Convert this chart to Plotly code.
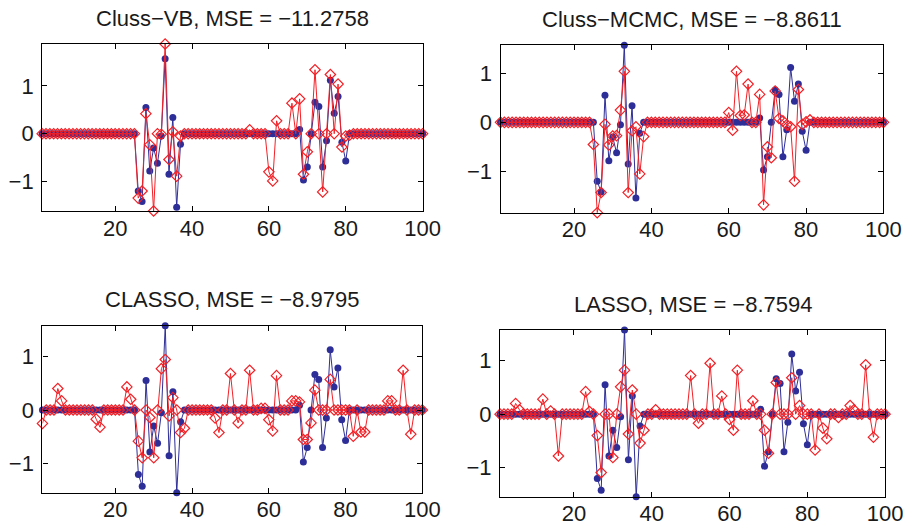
import plotly.graph_objects as go

# Sample index 1..100
idx = list(range(1, 101))

# True sparse signal (same in every panel)
true_signal = [
    0, 0, 0, 0, 0, 0, 0, 0, 0, 0,
    0, 0, 0, 0, 0, 0, 0, 0, 0, 0,
    0, 0, 0, 0, 0, -1.20, -1.42, 0.55, -0.78, -0.30,
    -0.62, -0.05, 1.57, -0.85, 0.34, -1.54, -0.22, 0, 0, 0,
    0, 0, 0, 0, 0, 0, 0, 0, 0, 0,
    0, 0, 0, 0, 0, 0, 0, 0, 0, 0,
    0, 0, 0, 0, 0, 0, 0, 0.09, -0.97, -0.70,
    0, 0.66, 0.57, -0.70, -0.15, 1.12, 0.43, 0.78, -0.18, -0.57,
    0, 0, 0, 0, 0, 0, 0, 0, 0, 0,
    0, 0, 0, 0, 0, 0, 0, 0, 0, 0,
]

# Estimates
est_cluss_vb = [
    0, 0, 0, 0, 0, 0, 0, 0, 0, 0,
    0, 0, 0, 0, 0, 0, 0, 0, 0, 0,
    0, 0, 0, 0, 0, -1.35, -1.20, 0.42, -0.23, -1.62,
    0.0, -0.01, 1.88, -0.54, 0.04, -0.89, -0.05, 0, 0, 0,
    0, 0, 0, 0, 0, 0, 0, 0, 0, 0,
    0, 0, 0, 0, 0.08, 0, 0, 0, 0, -0.80,
    -0.99, 0.27, 0, 0, 0, 0.64, 0, 0.73, -0.85, -0.38,
    0, 1.34, 0.0, -1.22, 0, 1.24, 0, 1.04, -0.28, -0.05,
    -0.03, 0, 0, 0, 0, 0, 0, 0, 0, 0,
    0, 0, 0, 0, 0, 0, 0, 0, 0, 0,
]

est_cluss_mcmc = [
    0, 0, 0, 0, 0, 0, 0, 0, 0, 0,
    0, 0, 0, 0, 0, 0, 0, 0, 0, 0,
    0, 0, 0, 0, -0.45, -1.84, -1.43, -0.04, -0.46, -0.28,
    -0.27, 0.25, 1.04, -1.43, -0.17, -0.09, -1.05, -0.29, 0, 0,
    0, 0, 0, 0, 0, 0, 0, 0, 0, 0,
    0, 0, 0, 0, 0, 0, 0, 0, 0, 0.20,
    -0.16, 1.04, 0.14, 0.15, 0.78, 0, 0, 0.57, -1.68, -0.50,
    -0.72, 0.64, 0.08, 0.03, -0.05, -0.09, -1.20, 0.67, -0.04, 0.01,
    0.05, 0, 0, 0, 0, 0, 0, 0, 0, 0,
    0, 0, 0, 0, 0, 0, 0, 0, 0, 0,
]

est_classo = [
    -0.25, 0, 0, 0, 0.40, 0.17, 0, 0, 0, 0,
    0, 0, 0, 0, -0.17, -0.32, 0, 0, 0, 0,
    0, 0, 0.43, 0.20, 0, -0.58, -0.89, 0, -0.14, -0.89,
    0, 0.77, 0.94, -0.11, 0.23, 0, -0.42, -0.34, 0, 0,
    0, 0, 0, 0, 0, -0.15, -0.42, 0, 0, 0.68,
    0, -0.24, 0, 0, 0.74, 0, 0, 0.03, 0.03, -0.18,
    -0.39, 0.64, 0, 0, 0, 0.17, 0.17, 0.15, -0.55, -0.55,
    -0.24, 0.37, 0, 0, 0, 0.57, 0, 0, 0, 0,
    0, -0.49, 0, -0.41, -0.41, 0, 0, 0, 0, 0,
    0.17, 0.17, 0, 0, 0.74, 0, -0.45, 0, 0, 0,
]

est_lasso = [
    0, 0, 0, 0, 0.20, 0.08, 0, 0, 0, 0,
    0, 0.28, 0, 0.06, 0, -0.78, 0, 0, 0, 0,
    0, 0, 0.42, 0.05, 0, -0.40, -1.09, 0, 0, -0.81,
    0, 0.51, 0.82, -0.37, 0.45, 0, -0.54, -0.30, 0, 0,
    0.08, 0, 0, 0, 0, 0, 0, 0, 0, 0.72,
    0, -0.17, 0, 0, 0.95, 0, 0, 0.34, 0, -0.10,
    -0.30, 0.82, 0, 0, 0, 0.25, 0, 0, -0.30, -0.73,
    0, 0.59, 0, 0, 0, 0.68, 0, 0.16, 0, 0,
    0, -0.67, 0, -0.26, -0.46, 0, 0, -0.06, 0, 0,
    0.16, 0.08, 0, 0, 0.92, 0, -0.43, 0, 0, 0,
]

titles = [
    "Cluss\u2212VB, MSE = \u221211.2758",
    "Cluss\u2212MCMC, MSE = \u22128.8611",
    "CLASSO, MSE = \u22128.9795",
    "LASSO, MSE = \u22128.7594",
]
estimates = [est_cluss_vb, est_cluss_mcmc, est_classo, est_lasso]
x_ticks = [20, 40, 60, 80, 100]
y_ticks = [-1, 0, 1]

W, H = 924, 532
# plot boxes in pixels: (left, right, top, bottom)
boxes = [
    (43, 431, 44, 211),
    (510.5, 901, 45.3, 212.7),
    (43.3, 430.7, 325.7, 492.7),
    (510, 902.7, 330, 496.7),
]

BLUE = "#2E2E98"
RED = "rgb(242,32,38)"
FONT = "Liberation Sans, Arial, Helvetica, sans-serif"

fig = go.Figure()
annotations = []
layout_axes = {}
for k, (est, title, box) in enumerate(zip(estimates, titles, boxes)):
    n = k + 1
    xa = "x" if n == 1 else f"x{n}"
    ya = "y" if n == 1 else f"y{n}"
    fig.add_trace(go.Scatter(
        x=idx, y=true_signal, xaxis=xa, yaxis=ya, mode="lines+markers",
        line=dict(color=BLUE, width=1),
        marker=dict(symbol="circle", size=7, color=BLUE),
        cliponaxis=False, showlegend=False,
    ))
    fig.add_trace(go.Scatter(
        x=idx, y=est, xaxis=xa, yaxis=ya, mode="lines+markers",
        line=dict(color=RED, width=1),
        marker=dict(symbol="diamond-open", size=8, color=RED,
                    line=dict(width=1.2, color=RED)),
        cliponaxis=False, showlegend=False,
    ))
    l, r, t, b = box
    lo = min(min(true_signal), min(est))
    hi = max(max(true_signal), max(est))
    common = dict(
        showline=True, linecolor="black", linewidth=1.2, mirror="ticks",
        ticks="inside", ticklen=5, tickwidth=1, tickcolor="black",
        showgrid=False, zeroline=False,
        tickfont=dict(family=FONT, size=22, color="#1a1a1a"),
    )
    layout_axes["xaxis" if n == 1 else f"xaxis{n}"] = dict(
        common, domain=[l / W, r / W], range=[1, 100],
        tickvals=x_ticks, ticktext=[str(v) for v in x_ticks],
        anchor=ya, ticklabelstandoff=-3,
    )
    layout_axes["yaxis" if n == 1 else f"yaxis{n}"] = dict(
        common, domain=[1 - b / H, 1 - t / H], range=[lo, hi],
        tickvals=y_ticks, ticktext=["\u22121", "0", "1"],
        anchor=xa, ticklabelstandoff=3,
    )
    annotations.append(dict(
        text=title, xref="paper", yref="paper",
        x=(l + r) / 2 / W, y=1 - (t - 26) / H,
        xanchor="center", yanchor="middle", showarrow=False,
        font=dict(family=FONT, size=22, color="#1a1a1a"),
    ))

fig.update_layout(
    width=W, height=H, margin=dict(l=0, r=0, t=0, b=0),
    paper_bgcolor="white", plot_bgcolor="white",
    annotations=annotations, **layout_axes,
)

fig.write_html("out.html")
